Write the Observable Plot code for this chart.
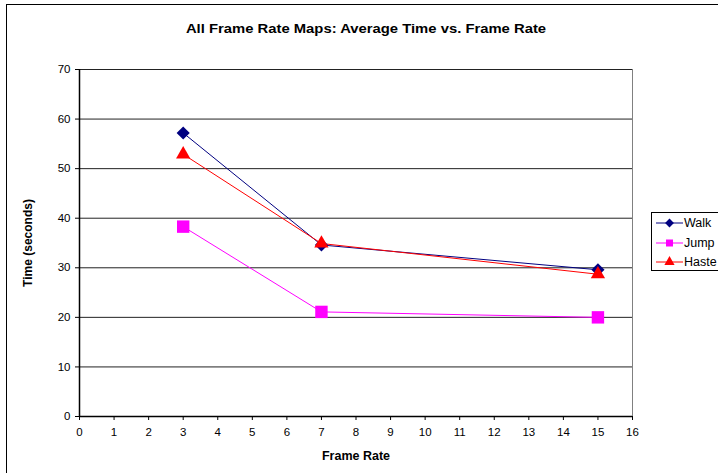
<!DOCTYPE html>
<html>
<head>
<meta charset="utf-8">
<script src="https://cdn.jsdelivr.net/npm/d3@7"></script>
<script src="https://cdn.jsdelivr.net/npm/@observablehq/plot@0.6"></script>
<style>
  html, body { margin: 0; padding: 0; background: #fff; }
  body { font-family: "Liberation Sans", Arial, sans-serif; }
  #wrap { position: relative; width: 718px; height: 473px; overflow: hidden; }
  #border { position: absolute; left: 6px; top: 4px; width: 760px; height: 520px; border: 1px solid #000; box-sizing: border-box; pointer-events: none; }
  #title { position: absolute; left: 0; width: 732px; top: 21px; text-align: center; font-weight: bold; font-size: 13px; }
  #title span { display: inline-block; transform: scaleX(1.14); }
  #legend { position: absolute; left: 651px; top: 212px; width: 90px; height: 59px; border: 1px solid #000; box-sizing: border-box; background: #fff; font-size: 12.5px; }
  .row { position: absolute; left: 2px; height: 18px; display: flex; align-items: center; }
  .row span { margin-left: 1px; }
  #plot { position: absolute; left: 0; top: 0; }
</style>
</head>
<body>
<div id="wrap">
  <div id="plot"></div>
  <div id="title"><span>All Frame Rate Maps: Average Time vs. Frame Rate</span></div>
  <div id="legend"></div>
  <div id="border"></div>
</div>
<script>
const frameRates = [3, 7, 15];
const seriesNames = ["Walk", "Jump", "Haste"];
const walk = [57.2, 34.6, 29.6];
const jump = [38.3, 21.1, 20.0];
const haste = [52.9, 34.9, 28.7];
const xTicks = d3.range(0, 17, 1);
const yTicks = d3.range(0, 71, 10);

const colors = {Walk: "#000080", Jump: "#FF00FF", Haste: "#FF0000"};
const symbols = {Walk: "diamond2", Jump: "square", Haste: "triangle"};
const radii = {Walk: 5.9, Jump: 7.0, Haste: 5.3};

const values = {Walk: walk, Jump: jump, Haste: haste};
const data = seriesNames.flatMap(s => frameRates.map((f, i) => ({series: s, x: f, y: values[s][i]})));

const font = "'Liberation Sans', Arial, sans-serif";

const chart = Plot.plot({
  width: 718,
  height: 473,
  marginLeft: 79,
  marginRight: 86,
  marginTop: 69,
  marginBottom: 57,
  style: {fontFamily: font, fontSize: "11px", background: "transparent", color: "#000"},
  x: {domain: [0, 16], ticks: xTicks},
  y: {domain: [0, 70], ticks: yTicks},
  marks: [
    Plot.frame({stroke: "#808080"}),
    Plot.gridY(yTicks, {stroke: "#222", strokeOpacity: 1, strokeWidth: 1}),
    Plot.axisX(xTicks, {tickSize: 4, tickPadding: 7, fontSize: 11.5, label: null, stroke: "#000"}),
    Plot.axisY(yTicks, {tickSize: 4, tickPadding: 5, fontSize: 11.5, label: null, stroke: "#000"}),
    Plot.ruleX([0], {stroke: "#000", strokeWidth: 1.5}),
    Plot.ruleY([0], {stroke: "#000", strokeWidth: 1.5}),
    Plot.text(["Frame Rate"], {frameAnchor: "bottom", dy: 43, fontWeight: "bold", fontSize: 12.5}),
    Plot.text(["Time (seconds)"], {frameAnchor: "left", dx: -51, rotate: -90, textAnchor: "middle", fontWeight: "bold", fontSize: 12}),
    ...seriesNames.map(s => Plot.line(data.filter(d => d.series === s), {x: "x", y: "y", stroke: colors[s], strokeWidth: 1})),
    ...seriesNames.map(s => Plot.dot(data.filter(d => d.series === s), {x: "x", y: "y", symbol: () => symbols[s], fill: colors[s], stroke: "none", r: radii[s]}))
  ]
});
document.getElementById("plot").appendChild(chart);

// legend
const legend = document.getElementById("legend");
const symGen = {diamond2: d3.symbolDiamond2, square: d3.symbolSquare, triangle: d3.symbolTriangle};
const legSizes = {Walk: 50, Jump: 49, Haste: 45};
seriesNames.forEach((s, i) => {
  const row = document.createElement("div");
  row.className = "row";
  row.style.top = (1 + i * 19.5) + "px";
  const svg = d3.create("svg").attr("width", 29).attr("height", 14);
  svg.append("line").attr("x1", 2).attr("x2", 29).attr("y1", 7).attr("y2", 7)
    .attr("stroke", colors[s]).attr("stroke-width", 1);
  svg.append("path").attr("transform", "translate(15.5,7)")
    .attr("d", d3.symbol(symGen[symbols[s]], legSizes[s])()).attr("fill", colors[s]);
  row.appendChild(svg.node());
  const t = document.createElement("span");
  t.textContent = s;
  row.appendChild(t);
  legend.appendChild(row);
});
</script>
</body>
</html>
